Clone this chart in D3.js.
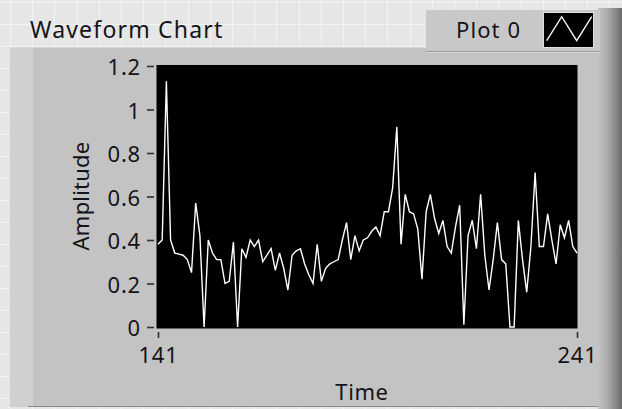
<!DOCTYPE html>
<html><head><meta charset="utf-8">
<script src="https://cdn.jsdelivr.net/npm/d3@7"></script>
<style>html,body{margin:0;padding:0;background:#e8e8e8;}svg{display:block;}</style>
</head><body>
<svg id="chart" width="622" height="409"></svg>
<script>
// ---- data (LabVIEW waveform: t0, dt, Y) ----
const title = "Waveform Chart";
const plotName = "Plot 0";
const xLabel = "Time";
const yLabel = "Amplitude";
const t0 = 141;
const dt = 1;
const amplitude = [
  0.38, 0.40, 1.13, 0.40, 0.34, 0.335, 0.33, 0.31, 0.25, 0.57,
  0.42, 0.00, 0.40, 0.34, 0.31, 0.31, 0.20, 0.21, 0.39, 0.00,
  0.36, 0.32, 0.40, 0.37, 0.40, 0.30, 0.33, 0.36, 0.26, 0.34,
  0.27, 0.17, 0.33, 0.35, 0.36, 0.29, 0.24, 0.20, 0.38, 0.21,
  0.27, 0.29, 0.30, 0.31, 0.40, 0.48, 0.31, 0.42, 0.35, 0.40,
  0.41, 0.44, 0.46, 0.42, 0.53, 0.53, 0.64, 0.92, 0.38, 0.61,
  0.53, 0.52, 0.45, 0.22, 0.53, 0.61, 0.50, 0.43, 0.49, 0.37,
  0.34, 0.46, 0.56, 0.01, 0.42, 0.49, 0.36, 0.61, 0.33, 0.17,
  0.31, 0.48, 0.31, 0.29, 0.00, 0.00, 0.49, 0.31, 0.16, 0.37,
  0.71, 0.37, 0.37, 0.52, 0.40, 0.29, 0.47, 0.41, 0.49, 0.37,
  0.34
];
const yTicks = [0, 0.2, 0.4, 0.6, 0.8, 1, 1.2];
const yTickLabels = ["0", "0.2", "0.4", "0.6", "0.8", "1", "1.2"];
const xTicks = [141, 241];
const xTickLabels = ["141", "241"];
const xDomain = [141, 241];
const yDomain = [0, 1.2];

// ---- drawing ----
const W = 622, H = 409;
const FONT = "'Noto Sans', 'Open Sans', sans-serif";
const TXT = "#141418";
const svg = d3.select("#chart");
const defs = svg.append("defs");

// panel background with grid
svg.append("rect").attr("width", W).attr("height", H).attr("fill", "#e6e6e6");
const grid = svg.append("g").attr("stroke", "#f4f4f4").attr("stroke-width", 1);
for (let gx = 10; gx < W; gx += 22.2) {
  grid.append("line").attr("x1", Math.round(gx) + 0.5).attr("x2", Math.round(gx) + 0.5).attr("y1", 0).attr("y2", H);
}
for (let gy = 2; gy < H; gy += 22) {
  grid.append("line").attr("y1", Math.round(gy) + 0.5).attr("y2", Math.round(gy) + 0.5).attr("x1", 0).attr("x2", W);
}

// chart frame
svg.append("rect").attr("x", 10).attr("y", 47).attr("width", 597).attr("height", 360).attr("fill", "#c3c3c3");
svg.append("rect").attr("x", 10).attr("y", 47).attr("width", 23).attr("height", 360).attr("fill", "#d0d0d0");
svg.append("line").attr("x1", 10).attr("x2", 607).attr("y1", 47.5).attr("y2", 47.5).attr("stroke", "#d6d6d6");
svg.append("line").attr("x1", 28).attr("x2", 607).attr("y1", 406.5).attr("y2", 406.5).attr("stroke", "#8a8a8a");
const grad = defs.append("linearGradient").attr("id", "shade").attr("x1", 0).attr("x2", 1).attr("y1", 0).attr("y2", 0);
grad.append("stop").attr("offset", "0%").attr("stop-color", "#c3c3c3");
grad.append("stop").attr("offset", "45%").attr("stop-color", "#a6a6a6");
grad.append("stop").attr("offset", "100%").attr("stop-color", "#6c6c6c");
svg.append("rect").attr("x", 598).attr("y", 8).attr("width", 24).attr("height", H - 8).attr("fill", "url(#shade)");

// legend
svg.append("rect").attr("x", 426).attr("y", 10).attr("width", 174).attr("height", 42).attr("fill", "#c8c8c8");
svg.append("line").attr("x1", 426).attr("x2", 600).attr("y1", 51.5).attr("y2", 51.5).attr("stroke", "#9c9c9c");
svg.append("line").attr("x1", 426).attr("x2", 600).attr("y1", 52.5).attr("y2", 52.5).attr("stroke", "#d8d8d8");
svg.append("text").attr("x", 456).attr("y", 38).attr("font-family", FONT).attr("font-size", 22)
  .attr("letter-spacing", 1.1).attr("fill", TXT).text(plotName);
svg.append("rect").attr("x", 543.5).attr("y", 12.5).attr("width", 50).attr("height", 35)
  .attr("fill", "#000").attr("stroke", "#e0e0e0").attr("stroke-width", 1);
const iconX = d3.scaleLinear().domain([0, 3]).range([546.7, 591.7]);
const iconY = d3.scaleLinear().domain([0, 1]).range([40.7, 16.7]);
const iconPts = [0, 1, 0, 1];
svg.append("path").attr("d", d3.line().x((d, i) => iconX(i)).y(d => iconY(d))(iconPts))
  .attr("fill", "none").attr("stroke", "#fff").attr("stroke-width", 1.3);

// title
svg.append("text").attr("x", 30).attr("y", 38).attr("font-family", FONT).attr("font-size", 23)
  .attr("letter-spacing", 1.2).attr("fill", TXT).text(title);

// scales
const x = d3.scaleLinear().domain(xDomain).range([158, 577]);
const y = d3.scaleLinear().domain(yDomain).range([327, 66]);

// plot area
svg.append("rect").attr("x", 156.5).attr("y", 65).attr("width", 421).attr("height", 263.5).attr("fill", "#000");

// y axis
const yAxis = d3.axisLeft(y).tickValues(yTicks).tickFormat((d, i) => yTickLabels[i]).tickSize(7).tickPadding(6);
const gy = svg.append("g").attr("transform", "translate(154,0)").call(yAxis);
gy.select(".domain").remove();
gy.selectAll(".tick line").attr("stroke", "#303030").attr("stroke-width", 1.6);
gy.selectAll(".tick text").attr("font-family", FONT).attr("font-size", 22).attr("letter-spacing", 0.8)
  .attr("fill", TXT).attr("dy", "0.4em");

// x axis
const xAxis = d3.axisBottom(x).tickValues(xTicks).tickFormat((d, i) => xTickLabels[i]).tickSize(6).tickPadding(9);
const gx = svg.append("g").attr("transform", "translate(0,332)").call(xAxis);
gx.select(".domain").remove();
gx.selectAll(".tick line").attr("stroke", "#303030").attr("stroke-width", 1.6);
gx.selectAll(".tick text").attr("font-family", FONT).attr("font-size", 22).attr("letter-spacing", 0.8).attr("fill", TXT);

// axis titles
svg.append("text").attr("x", 362).attr("y", 400).attr("text-anchor", "middle").attr("font-family", FONT)
  .attr("font-size", 22).attr("letter-spacing", 0.6).attr("fill", TXT).text(xLabel);
svg.append("text").attr("transform", "translate(89,196) rotate(-90)").attr("text-anchor", "middle")
  .attr("font-family", FONT).attr("font-size", 22).attr("letter-spacing", 0.2).attr("fill", TXT).text(yLabel);

// waveform
const line = d3.line().x((d, i) => x(t0 + i * dt)).y(d => y(d));
svg.append("path").datum(amplitude).attr("d", line).attr("fill", "none")
  .attr("stroke", "#ffffff").attr("stroke-width", 1.4).attr("stroke-linejoin", "miter");
</script>
</body></html>
